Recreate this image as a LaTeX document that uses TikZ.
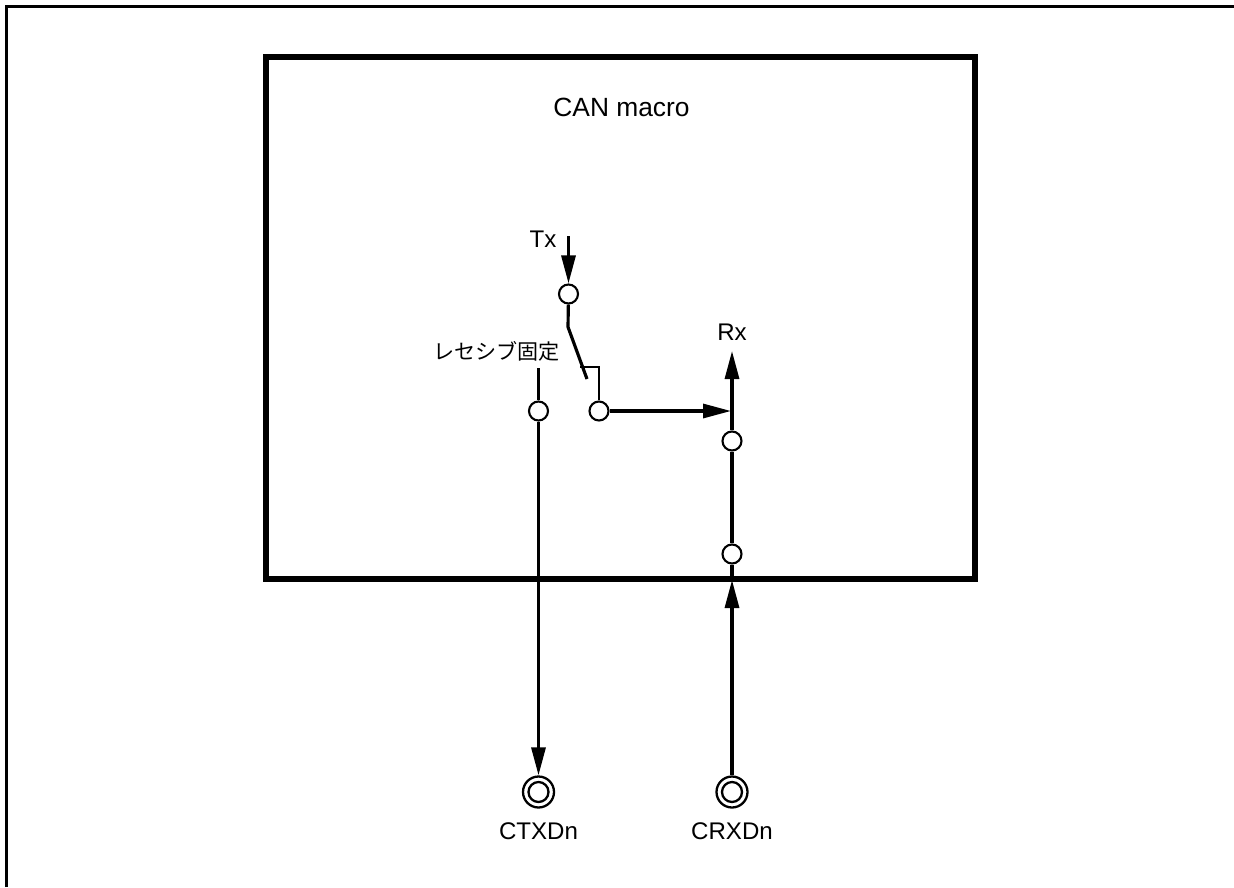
\documentclass[tikz,border=0pt]{standalone}
\usepackage{fontspec}
\setmainfont{Liberation Sans}
\newfontfamily\jpfont{Noto Sans CJK JP}
\usepackage{tikz}
\usetikzlibrary{arrows.meta,positioning}
\tikzset{
  contact/.style={draw=black, line width=1.2pt, circle, fill=white, inner sep=0pt, minimum size=3.8mm},
  pinouter/.style={draw=black, line width=1.3pt, circle, fill=white, inner sep=0pt, minimum size=6.2mm},
  pininner/.style={draw=black, line width=1.3pt, circle, fill=white, inner sep=0pt, minimum size=4mm},
  macrobox/.style={draw=black, line width=2.9pt, inner sep=0pt, minimum width=141.8mm, minimum height=104.4mm},
  lbl/.style={font=\fontsize{13.7}{16}\selectfont, inner sep=0pt},
  arrflow/.style={-{Triangle[length=5.6mm, width=2.8mm]}, line width=1.8pt},
  wire/.style={line width=1.8pt},
  thinwire/.style={line width=0.9pt},
}
\begin{document}
\begin{tikzpicture}[x=0.2mm, y=-0.2mm]
\useasboundingbox (0,0) rectangle (1234,887);
% Frame
\coordinate (frameA) at (6.5,887);
\coordinate (frameB) at (6.5,6.5);
\coordinate (frameC) at (1234,6.5);
\draw[line width=1.2pt] (frameA) -- (frameB) -- (frameC);

% Macro
\node[macrobox] (macro) at (620.5,318) {};
\node[lbl, font=\fontsize{15}{18}\selectfont] (macrolbl) at (621.5,107) {CAN macro};

% Tx side
\node[contact] (txc) at (568.5,294) {};
\coordinate (txin) at (568.5,236);
\coordinate (swa) at (568,327);
\coordinate (swb) at (587,379);
\node[lbl] (txlbl) at (543,239) {Tx};
\node[contact] (swout) at (599,411) {};
\coordinate (swc) at (580,367);
\coordinate (swd) at (599,367);

% Recessive
\node[contact] (recc) at (538.5,411) {};
\coordinate (rectop) at (538.5,368);
\node[inner sep=0pt, font=\jpfont\fontsize{12}{14}\selectfont] (reclbl) at (496.5,351) {レセシブ固定};

% Rx side
\node[contact] (rxup) at (732,441) {};
\node[contact] (rxlow) at (732,554) {};
\coordinate (rxtip) at (732,351);
\coordinate (rxjoin) at (731,411);
\coordinate (rxbot) at (732,580);
\node[lbl] (rxlbl) at (732,332) {Rx};

% Pins
\node[pinouter] (ctxo) at (538.5,792) {};
\node[pininner] (ctxi) at (538.5,792) {};
\node[lbl, below=2.7mm of ctxo] (ctxlbl) {CTXDn};
\node[pinouter] (crxo) at (732,792) {};
\node[pininner] (crxi) at (732,792) {};
\node[lbl, below=2.7mm of crxo] (crxlbl) {CRXDn};

% Connectors
\draw[arrflow] (txin) -- (txc);
\draw[wire] (txc) -- (swa) -- (swb);
\draw[thinwire] (swc) -- (swd) -- (swout);
\draw[arrflow] (swout) -- (rxjoin);
\draw[wire] (rectop) -- (recc);
\draw[arrflow] (recc) -- (ctxo);
\draw[arrflow] (rxup) -- (rxtip);
\draw[wire] (rxup) -- (rxlow);
\draw[wire] (rxlow) -- (rxbot);
\draw[arrflow] (crxo) -- (rxbot);
\end{tikzpicture}
\end{document}
